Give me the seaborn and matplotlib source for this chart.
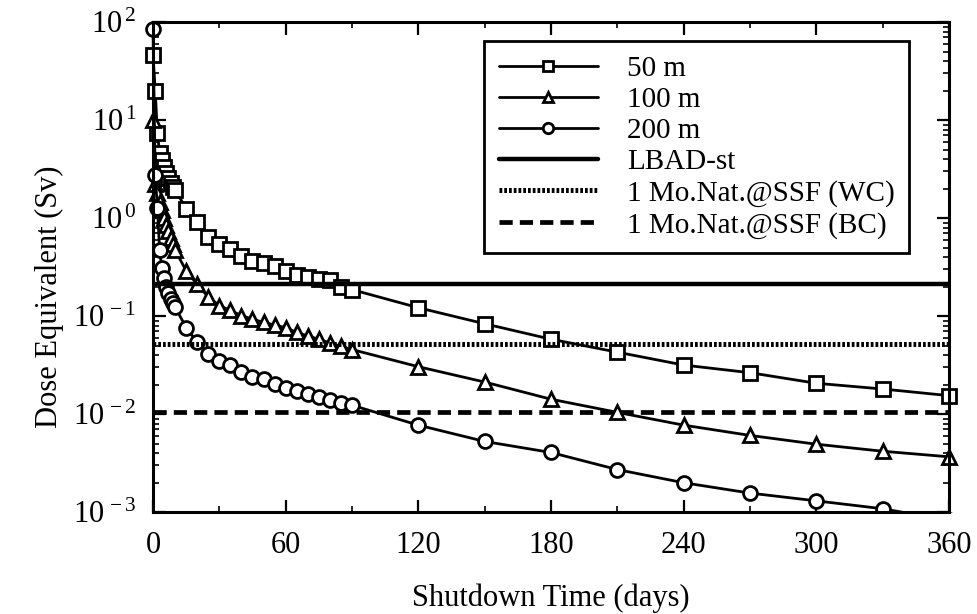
import math
import matplotlib
matplotlib.use("Agg")
import matplotlib.pyplot as plt
import seaborn as sns
from matplotlib.patches import Rectangle
from matplotlib.ticker import FixedLocator, MultipleLocator, LogLocator, FuncFormatter, NullFormatter

# Shutdown time (days) at which the dose was evaluated
days = [0, 1, 2, 3, 4, 5, 6, 7, 8, 9, 10,
        15, 20, 25, 30, 35, 40, 45, 50, 55, 60, 65, 70, 75, 80, 85, 90,
        120, 150, 180, 210, 240, 270, 300, 330, 360]

# Dose equivalent (Sv) at three distances
dose_50m = [46, 20, 7.3, 4.6, 3.9, 3.3, 2.86, 2.55, 2.26, 2.08, 1.93,
            1.25, 0.91, 0.64, 0.54, 0.485, 0.414, 0.367, 0.344, 0.326, 0.289,
            0.263, 0.25, 0.24, 0.231, 0.2, 0.186,
            0.1216, 0.0834, 0.058, 0.0428, 0.0316, 0.0264, 0.0206, 0.018, 0.0154]
dose_100m = [10, 2.2, 1.8, 1.45, 1.2, 1.0, 0.85, 0.73, 0.62, 0.54, 0.47,
             0.29, 0.21, 0.156, 0.128, 0.114, 0.101, 0.093, 0.086, 0.081, 0.076,
             0.068, 0.0625, 0.058, 0.053, 0.049, 0.0455,
             0.0304, 0.0212, 0.01416, 0.0104, 0.0077, 0.00605, 0.00492, 0.00417, 0.00366]
dose_200m = [85, 2.75, 1.26, 0.47, 0.307, 0.242, 0.2, 0.17, 0.15, 0.135, 0.1236,
             0.076, 0.054, 0.0413, 0.0344, 0.0313, 0.0267, 0.0241, 0.0228, 0.0202, 0.0186,
             0.0172, 0.0161, 0.0149, 0.0138, 0.013, 0.0123,
             0.0077, 0.00525, 0.00405, 0.00271, 0.00199, 0.00156, 0.0013, 0.00108, 0.00082]

# Reference dose limits (Sv)
lbad_st = 0.21
nat_wc = 0.052
nat_bc = 0.0105

series_labels = ["50 m", "100 m", "200 m"]
limit_labels = ["LBAD-st", "1 Mo.Nat.@SSF (WC)", "1 Mo.Nat.@SSF (BC)"]
x_ticks = [0, 60, 120, 180, 240, 300, 360]

sns.set_theme(style="ticks")
plt.rcParams["font.family"] = ["Liberation Serif", "DejaVu Serif"]
plt.rcParams["mathtext.fontset"] = "custom"
plt.rcParams["mathtext.rm"] = "Liberation Serif"
plt.rcParams["mathtext.it"] = "Liberation Serif:italic"
plt.rcParams["text.color"] = "black"
plt.rcParams["axes.labelcolor"] = "black"
plt.rcParams["xtick.color"] = "black"
plt.rcParams["ytick.color"] = "black"

fig, ax = plt.subplots(figsize=(9.77, 6.14), dpi=100)
ax.set_position([0.1566, 0.1661, 0.8147, 0.798])
ax.set_yscale("log")

for label, vals, mk in zip(series_labels, [dose_50m, dose_100m, dose_200m], ["s", "^", "o"]):
    sns.lineplot(x=days, y=vals, ax=ax, color="black", linewidth=2.0,
                 marker=mk, markersize=10, markerfacecolor="white",
                 markeredgecolor="black", markeredgewidth=2.0,
                 label=label, sort=False, errorbar=None)

ax.axhline(lbad_st, color="black", linewidth=3.2, label=limit_labels[0])
ax.axhline(nat_wc, color="black", linewidth=3.6, linestyle=(0, (0.55, 0.4)),
           label=limit_labels[1])
ax.axhline(nat_bc, color="black", linewidth=3.4, linestyle=(0, (2.8, 1.5)),
           label=limit_labels[2])

# let markers at day 0 sit over the left frame, but cut anything under the bottom axis
clip = Rectangle((-0.03, 0.0), 1.06, 1.03, transform=ax.transAxes)
for line in ax.lines[:3]:
    line.set_clip_path(clip)

ax.set_xlim(0, 360)
ax.set_ylim(1e-3, 1e2)

ax.xaxis.set_major_locator(FixedLocator(x_ticks))
ax.xaxis.set_minor_locator(MultipleLocator(30))
ax.yaxis.set_major_locator(LogLocator(base=10, numticks=10))
ax.yaxis.set_minor_locator(LogLocator(base=10, subs=range(2, 10), numticks=20))
ax.yaxis.set_minor_formatter(NullFormatter())
ax.yaxis.set_major_formatter(FuncFormatter(
    lambda v, pos: r"$\mathregular{10^{\,%d}}$" % round(math.log10(v))))

ax.tick_params(which="major", direction="in", length=9, width=1.6,
               top=True, right=True, labelsize=22)
ax.tick_params(which="minor", direction="in", length=4.5, width=1.2,
               top=True, right=True)
ax.tick_params(axis="x", which="major", pad=14)
ax.tick_params(axis="y", which="major", pad=12)

for sp in ax.spines.values():
    sp.set_linewidth(2.2)
    sp.set_color("black")

ax.set_xlabel("Shutdown Time (days)", fontsize=22)
ax.set_ylabel("Dose Equivalent (Sv)", fontsize=22)
ax.xaxis.set_label_coords(0.5, -0.145)
ax.yaxis.set_label_coords(-0.112, 0.44)

leg = ax.legend(loc="upper left", bbox_to_anchor=(0.416, 0.961), borderaxespad=0,
                fontsize=21, handlelength=3.4, handletextpad=1.0, labelspacing=0.16,
                borderpad=0.5, fancybox=False, framealpha=1, edgecolor="black",
                markerscale=0.75, numpoints=1)
leg.get_frame().set_linewidth(2.0)

fig.savefig("out.png", dpi=100)
